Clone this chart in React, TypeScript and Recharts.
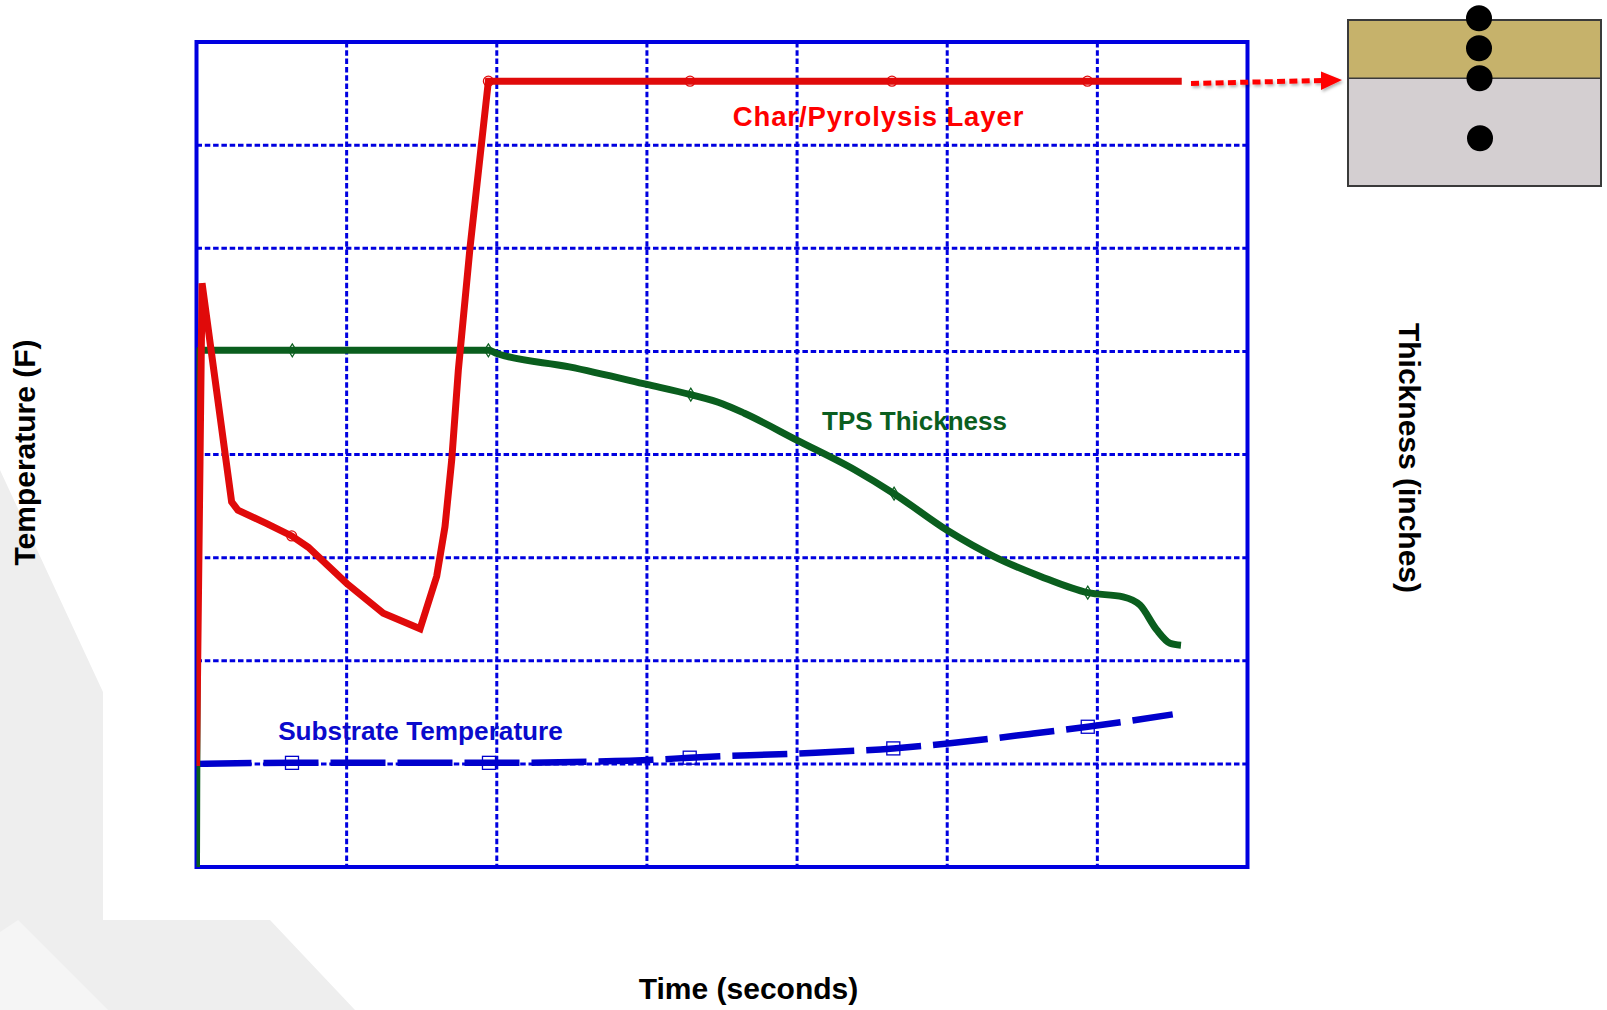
import React from 'react';
import { LineChart, Line, XAxis, YAxis, CartesianGrid, ReferenceArea } from 'recharts';

// ---- tick values (no tick labels are printed in the reference) ----
const timeTicks = [0, 100, 200, 300, 400, 500, 600, 700];
const tempTicks = [0, 1, 2, 3, 4, 5, 6, 7, 8];
const thickTicks = [0, 1, 2, 3, 4, 5, 6, 7, 8];

// ---- Char / Pyrolysis layer temperature ----
const charTime = [0, 3.7, 23.4, 27.6, 46.8, 63.4, 74.5, 100, 124.4, 148.9, 160, 165.5, 170, 174.4, 182.2, 194.4, 328.7, 463.2, 593.4, 656.2];
const charTemp = [0.98, 5.66, 3.54, 3.46, 3.33, 3.21, 3.1, 2.75, 2.46, 2.31, 2.82, 3.3, 3.95, 4.82, 6.01, 7.62, 7.62, 7.62, 7.62, 7.62];
const charMarkerIdx = [5, 15, 16, 17, 18];

// ---- TPS thickness ----
const tpsTime = [0, 1.7, 63.8, 194.4, 200, 248.3, 299.9, 329.2, 350.6, 364.9, 399.8, 438.6, 464.6, 500.5, 531.2, 561.8, 593.6, 617.1, 628.4, 639.5, 648.4, 655.7];
const tpsThickness = [0, 5.01, 5.01, 5.01, 4.98, 4.85, 4.68, 4.58, 4.49, 4.4, 4.14, 3.85, 3.62, 3.26, 3.01, 2.82, 2.66, 2.62, 2.54, 2.3, 2.17, 2.15];
const tpsMarkerIdx = [2, 3, 7, 12, 16];

// ---- Substrate temperature ----
const subTime = [0, 63.6, 194.8, 260.2, 305.3, 328.5, 399.1, 464.1, 501.9, 555.1, 593.6, 650.2];
const subTemp = [1.0, 1.01, 1.01, 1.02, 1.04, 1.06, 1.1, 1.15, 1.2, 1.29, 1.36, 1.48];
const subMarkerIdx = [1, 2, 5, 7, 10];

// ---- texts ----
const xTitle = 'Time (seconds)';
const yLeftTitle = 'Temperature (F)';
const yRightTitle = 'Thickness (inches)';
const charLabel = 'Char/Pyrolysis Layer';
const tpsLabel = 'TPS Thickness';
const subLabel = 'Substrate Temperature';

const zip = (ts: number[], vs: number[], marks: number[]) =>
  ts.map((t, i) => ({ t, v: vs[i], m: marks.includes(i) }));

const charData = zip(charTime, charTemp, charMarkerIdx);
const tpsData = zip(tpsTime, tpsThickness, tpsMarkerIdx);
const subData = zip(subTime, subTemp, subMarkerIdx);

const RED = '#E00A0A';
const GREEN = '#0A5E1E';
const BLUE = '#0000CC';
const GRID = '#0000E0';
const FONT = '"Liberation Sans", Arial, Helvetica, sans-serif';

const X_MAX = 700;
const Y_MAX = 8;

const circleDot = (p: any) =>
  p.payload && p.payload.m ? (
    <circle key={`c${p.index}`} cx={p.cx} cy={p.cy} r={5} fill="none" stroke={RED} strokeWidth={1.2} />
  ) : (
    <g key={`c${p.index}`} />
  );

const diamondDot = (p: any) =>
  p.payload && p.payload.m ? (
    <polygon
      key={`d${p.index}`}
      points={`${p.cx},${p.cy - 6.5} ${p.cx + 4},${p.cy} ${p.cx},${p.cy + 6.5} ${p.cx - 4},${p.cy}`}
      fill="none"
      stroke={GREEN}
      strokeWidth={1.2}
    />
  ) : (
    <g key={`d${p.index}`} />
  );

const squareDot = (p: any) =>
  p.payload && p.payload.m ? (
    <rect key={`s${p.index}`} x={p.cx - 6.5} y={p.cy - 6.5} width={13} height={13} fill="none" stroke={BLUE} strokeWidth={1.3} />
  ) : (
    <g key={`s${p.index}`} />
  );

const noTick = () => <g />;

const gridLine = (p: any) => (
  <line
    key={`g${p.index}-${p.x1}-${p.y1}`}
    x1={p.x1}
    y1={p.y1}
    x2={p.x2}
    y2={p.y2}
    stroke={GRID}
    strokeWidth={3}
    strokeDasharray="5.5 2.8"
  />
);

const leftTitle = (props: any) => {
  const vb = props.viewBox || { x: 0, y: 42, width: 196.5, height: 825 };
  const x = vb.x + 35;
  const y = vb.y + vb.height / 2 - 2;
  return (
    <text x={x} y={y} transform={`rotate(-90 ${x} ${y})`} textAnchor="middle" fontSize={30} fontWeight="bold" fill="#000" fontFamily={FONT}>
      {yLeftTitle}
    </text>
  );
};

const rightTitle = (props: any) => {
  const vb = props.viewBox || { x: 1247.5, y: 42, width: 359.5, height: 825 };
  const x = vb.x + 151.5;
  const y = vb.y + vb.height / 2 + 3.5;
  return (
    <text x={x} y={y} transform={`rotate(90 ${x} ${y})`} textAnchor="middle" fontSize={30} fontWeight="bold" fill="#000" fontFamily={FONT}>
      {yRightTitle}
    </text>
  );
};

const bottomTitle = (props: any) => {
  const vb = props.viewBox || { x: 196.5, y: 867, width: 1051, height: 143 };
  const x = vb.x + vb.width / 2 + 26.5;
  const y = vb.y + 132;
  return (
    <text x={x} y={y} textAnchor="middle" fontSize={30} fontWeight="bold" fill="#000" fontFamily={FONT}>
      {xTitle}
    </text>
  );
};

const vGen = (args: any) => {
  const off = args.offset;
  const sc = args.xAxis && typeof args.xAxis.scale === 'function' ? args.xAxis.scale : null;
  return timeTicks.map((t) => (sc ? sc(t) : off.left + (t / X_MAX) * off.width));
};
const hGen = (args: any) => {
  const off = args.offset;
  const sc = args.yAxis && typeof args.yAxis.scale === 'function' ? args.yAxis.scale : null;
  return tempTicks.map((v) => (sc ? sc(v) : off.top + off.height - (v / Y_MAX) * off.height));
};

export default function App() {
  return (
    <div style={{ position: 'absolute', left: 0, top: 0, width: 1607, height: 1010, background: '#fff', fontFamily: FONT }}>
      {/* faint watermark behind the chart */}
      <svg width={1607} height={1010} style={{ position: 'absolute', left: 0, top: 0 }}>
        <polygon points="0,470 103,692 103,920 270,920 355,1010 0,1010" fill="#EEEEEE" />
        <polygon points="0,932 18,920 108,1010 0,1010" fill="#F5F5F5" />
      </svg>

      <div style={{ position: 'absolute', left: 0, top: 0 }}>
        <LineChart width={1607} height={1010} margin={{ top: 42, right: 0, bottom: 0, left: 0 }}>
          <CartesianGrid
            xAxisId="time"
            yAxisId="temp"
            stroke={GRID}
            strokeWidth={3}
            strokeDasharray="5.5 2.8"
            fill="none"
            horizontal={gridLine}
            vertical={gridLine}
            verticalCoordinatesGenerator={vGen}
            horizontalCoordinatesGenerator={hGen}
          />
          <XAxis
            xAxisId="time"
            type="number"
            dataKey="t"
            domain={[0, X_MAX]}
            ticks={timeTicks}
            allowDataOverflow
            height={143}
            tick={noTick}
            tickLine={false}
            axisLine={false}
            label={{ content: bottomTitle }}
          />
          <YAxis
            yAxisId="temp"
            type="number"
            domain={[0, Y_MAX]}
            ticks={tempTicks}
            width={196.5}
            tick={noTick}
            tickLine={false}
            axisLine={false}
            label={{ content: leftTitle }}
          />
          <YAxis
            yAxisId="thick"
            orientation="right"
            type="number"
            domain={[0, Y_MAX]}
            ticks={thickTicks}
            width={359.5}
            tick={noTick}
            tickLine={false}
            axisLine={false}
            label={{ content: rightTitle }}
          />
          <ReferenceArea
            xAxisId="time"
            yAxisId="temp"
            x1={0}
            x2={X_MAX}
            y1={0}
            y2={Y_MAX}
            fill="none"
            fillOpacity={0}
            stroke={GRID}
            strokeWidth={4}
            ifOverflow="visible"
          />
          <Line
            xAxisId="time"
            yAxisId="temp"
            data={subData}
            dataKey="v"
            type="monotone"
            stroke={BLUE}
            strokeWidth={6.5}
            strokeDasharray="55 12"
            dot={squareDot}
            activeDot={false}
            isAnimationActive={false}
          />
          <Line
            xAxisId="time"
            yAxisId="thick"
            data={tpsData}
            dataKey="v"
            type="monotone"
            stroke={GREEN}
            strokeWidth={7}
            dot={diamondDot}
            activeDot={false}
            isAnimationActive={false}
          />
          <Line
            xAxisId="time"
            yAxisId="temp"
            data={charData}
            dataKey="v"
            type="linear"
            stroke={RED}
            strokeWidth={7}
            dot={circleDot}
            activeDot={false}
            isAnimationActive={false}
          />
        </LineChart>
      </div>

      {/* annotations, arrow and layer sketch */}
      <svg width={1607} height={1010} style={{ position: 'absolute', left: 0, top: 0, pointerEvents: 'none' }}>
        <defs>
          <filter id="sh" x="-20%" y="-50%" width="140%" height="200%">
            <feDropShadow dx="1.5" dy="2" stdDeviation="1.5" floodColor="#000" floodOpacity="0.3" />
          </filter>
        </defs>
        <text x={878.5} y={125.7} textAnchor="middle" fontSize={27.5} letterSpacing={0.9} fontWeight="bold" fill="#FF0000" fontFamily={FONT}>
          {charLabel}
        </text>
        <text x={914.5} y={430} textAnchor="middle" fontSize={26} fontWeight="bold" fill="#0B5E1F" fontFamily={FONT}>
          {tpsLabel}
        </text>
        <text x={420.5} y={740} textAnchor="middle" fontSize={26.2} fontWeight="bold" fill="#0A0ACC" fontFamily={FONT}>
          {subLabel}
        </text>

        <g filter="url(#sh)">
          <line x1={1191} y1={83.5} x2={1322} y2={80.5} stroke="#FF0000" strokeWidth={5} strokeDasharray="8 4.3" />
          <polygon points="1321,71.5 1342,80 1321,90" fill="#FF0000" />
        </g>

        <g>
          <rect x={1348} y={20} width={253} height={58.3} fill="#C6B26B" />
          <rect x={1348} y={78.3} width={253} height={107.7} fill="#D4CFD1" />
          <rect x={1348} y={20} width={253} height={166} fill="none" stroke="#3A3A3A" strokeWidth={2} />
          <line x1={1348} y1={78.3} x2={1601} y2={78.3} stroke="#3A3A3A" strokeWidth={1.5} />
          <circle cx={1479} cy={18.3} r={13} fill="#000" />
          <circle cx={1479} cy={48.3} r={13} fill="#000" />
          <circle cx={1479.5} cy={78.3} r={13} fill="#000" />
          <circle cx={1480} cy={138.3} r={13} fill="#000" />
        </g>
      </svg>
    </div>
  );
}
